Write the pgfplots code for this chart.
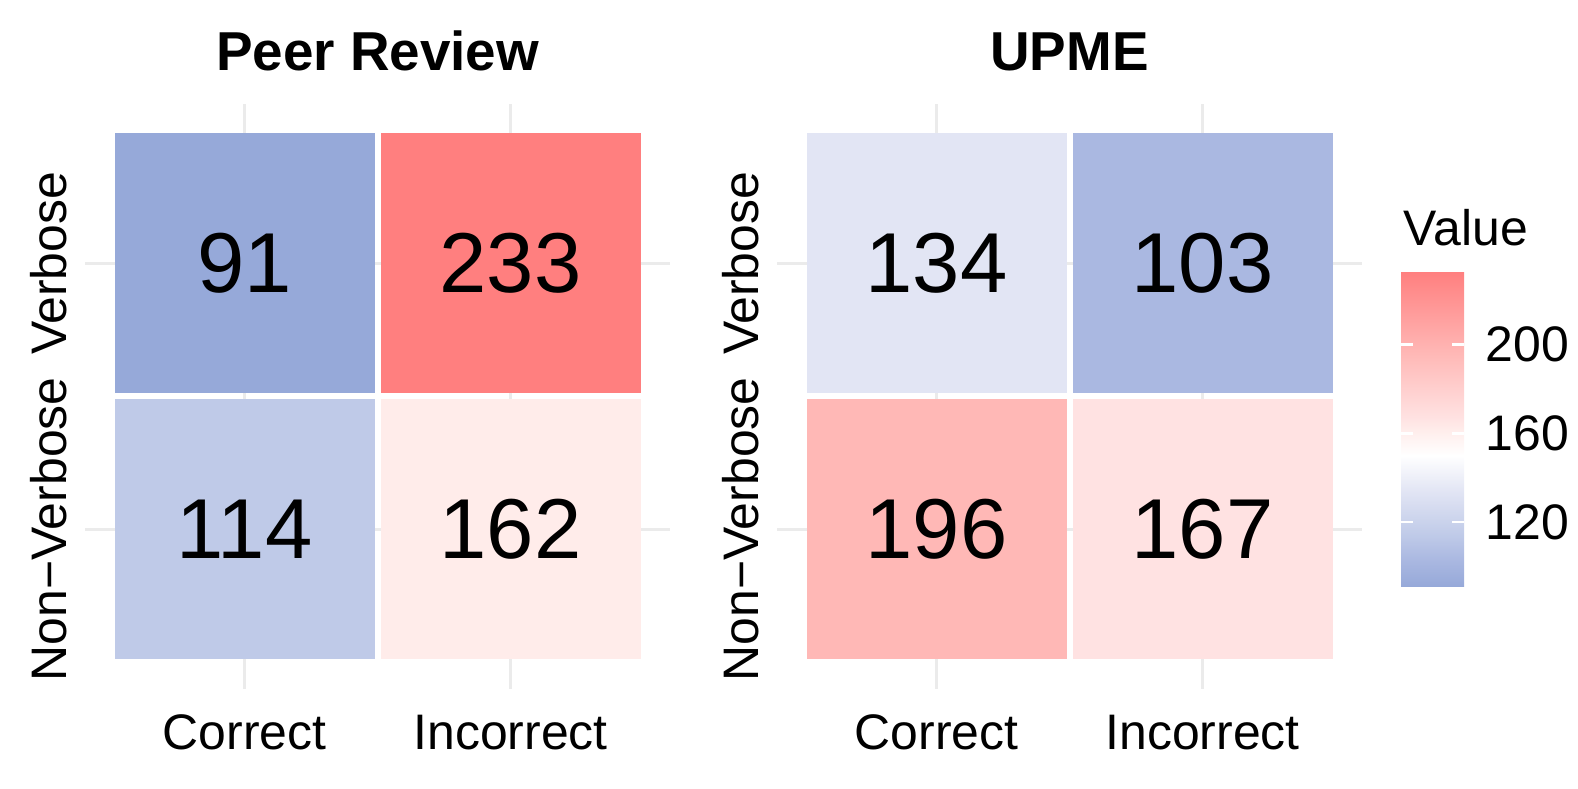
\documentclass[border=0pt]{standalone}
\usepackage{fontspec}
\setmainfont{Liberation Sans}
\usepackage{pgfplots}
\pgfplotsset{compat=1.18}
\newcommand\fs[1]{\fontsize{#1}{#1}\selectfont}
\definecolor{gridgray}{HTML}{EBEBEB}
\pgfplotsset{
  /pgf/number format/assume math mode=true,
  heat/.style={
    scale only axis, width=58.52mm, height=58.52mm,
    xmin=-0.6, xmax=1.6, ymin=-0.6, ymax=1.6,
    xtick={0,1}, ytick={0,1},
    xticklabels={Correct,Incorrect},
    yticklabels={Non−Verbose,Verbose},
    axis line style={draw=none},
    major tick length=0pt,
    grid=major, major grid style={gridgray, line width=0.85pt},
    tick label style={font=\fs{14.2}},
    xticklabel style={anchor=base, yshift=-6.1mm},
    yticklabel style={xshift=-1.9mm, rotate=90, anchor=base},
    every axis title/.style={at={(0.5,1)}, anchor=base, yshift=3.3mm, font=\bfseries\fs{15.6}},
    colormap={rb}{rgb255(91pt)=(150,169,217); rgb255(103pt)=(170,184,225);
      rgb255(114pt)=(191,202,232); rgb255(134pt)=(226,229,244);
      rgb255(150pt)=(255,255,255); rgb255(162pt)=(255,236,234);
      rgb255(167pt)=(255,226,226); rgb255(196pt)=(255,184,182);
      rgb255(233pt)=(255,127,127)},
    point meta min=91, point meta max=233,
  },
  tiles/.style={
    scatter, only marks, mark=square*, mark size=13mm,
    point meta=explicit,
    scatter/use mapped color={draw opacity=0, fill=mapped color},
  },
  labels/.style={
    only marks, mark=none, point meta=explicit,
    nodes near coords, nodes near coords align={center},
    every node near coord/.append style={text=black, anchor=center, font=\fs{24.2}},
  },
}
\begin{document}
\begin{tikzpicture}
\useasboundingbox (0,0) rectangle (157.8mm,78.9mm);
\begin{axis}[heat, at={(8.5mm,10mm)}, anchor=south west, title={Peer Review}]
\addplot[tiles] coordinates {(0,1) [91] (1,1) [233] (0,0) [114] (1,0) [162]};
\addplot[labels] coordinates {(0,1) [91] (1,1) [233] (0,0) [114] (1,0) [162]};
\end{axis}
\begin{axis}[heat, at={(77.7mm,10mm)}, anchor=south west, title={UPME},
  colorbar,
  colorbar shift/.style={},
  colorbar/width=6.3mm,
  colorbar style={
    at={(parent axis.east)}, anchor=west, xshift=3.9mm, yshift=-3.25mm,
    height=31.5mm,
    ytick={120,160,200}, ytick pos=both, yticklabel pos=right,
    tick align=inside, major tick length=1.2mm,
    major tick style={white, line width=0.7pt},
    axis line style={draw=none},
    yticklabel style={font=\fs{14.2}, anchor=west, inner sep=0pt, xshift=2.1mm},
    title={Value},
    every axis title/.style={at={(0,1)}, anchor=base west, inner sep=0pt, xshift=0.2mm, yshift=2.6mm, font=\fs{14.2}},
  }]
\addplot[tiles] coordinates {(0,1) [134] (1,1) [103] (0,0) [196] (1,0) [167]};
\addplot[labels] coordinates {(0,1) [134] (1,1) [103] (0,0) [196] (1,0) [167]};
\end{axis}
\end{tikzpicture}
\end{document}
